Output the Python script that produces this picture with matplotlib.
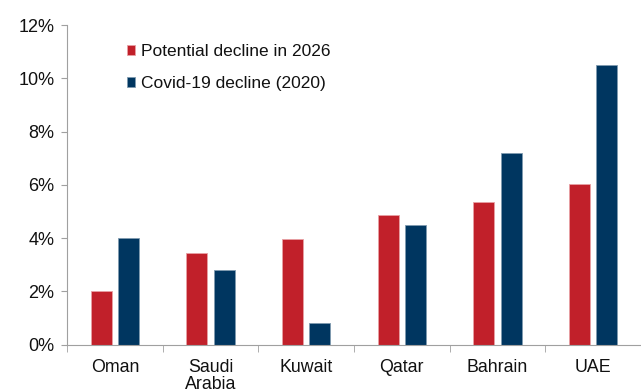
import numpy as np
import matplotlib
matplotlib.use('Agg')
import matplotlib.pyplot as plt
from matplotlib.ticker import FuncFormatter, FixedLocator

plt.rcParams['font.family'] = ['Liberation Sans', 'DejaVu Sans']

paises = ['Oman', 'Saudi\nArabia', 'Kuwait', 'Qatar', 'Bahrain', 'UAE']
declive_2026 = [2.0, 3.45, 3.97, 4.86, 5.37, 6.03]
declive_covid = [4.01, 2.81, 0.83, 4.49, 7.2, 10.49]

rojo = '#C1202A'
azul = '#003660'

fig = plt.figure(figsize=(6.41, 3.92), dpi=100)
ax = fig.add_axes([0.1045, 0.1207, 0.8955, 0.815])

x = np.arange(len(paises))
w = 0.22
off = 0.142
ax.bar(x - off, declive_2026, w, color=rojo, edgecolor='#E8A0A4', linewidth=0.6,
       label='Potential decline in 2026')
ax.bar(x + off, declive_covid, w, color=azul, edgecolor='#7F9AB0', linewidth=0.6,
       label='Covid-19 decline (2020)')

ax.set_xlim(-0.5, len(paises) - 0.5)
ax.set_ylim(0, 12)
ax.set_yticks(np.arange(0, 13, 2))
ax.yaxis.set_major_formatter(FuncFormatter(lambda v, p: f'{v:.0f}%'))

ax.set_xticks(x)
ax.set_xticklabels(paises)
ax.xaxis.set_minor_locator(FixedLocator(np.arange(-0.5, len(paises), 1.0)))
ax.tick_params(axis='x', which='major', length=0, pad=10, labelsize=12.8, colors='#111111')
ax.tick_params(axis='x', which='minor', length=5, color='#A0A0A0', direction='out')
ax.tick_params(axis='y', length=4, color='#A0A0A0', labelsize=13, colors='#111111', pad=5)
for lab in ax.get_xticklabels():
    lab.set_linespacing(1.05)

for s in ['top', 'right']:
    ax.spines[s].set_visible(False)
ax.spines['left'].set_color('#A0A0A0')
ax.spines['bottom'].set_color('#A0A0A0')

leg = ax.legend(loc='upper left', bbox_to_anchor=(0.077, 0.99), frameon=False,
                fontsize=12.5, handlelength=0.5, handleheight=0.5, handletextpad=0.3,
                labelspacing=1.0)
for t in leg.get_texts():
    t.set_color('#111111')

plt.savefig('out.png', dpi=100)
